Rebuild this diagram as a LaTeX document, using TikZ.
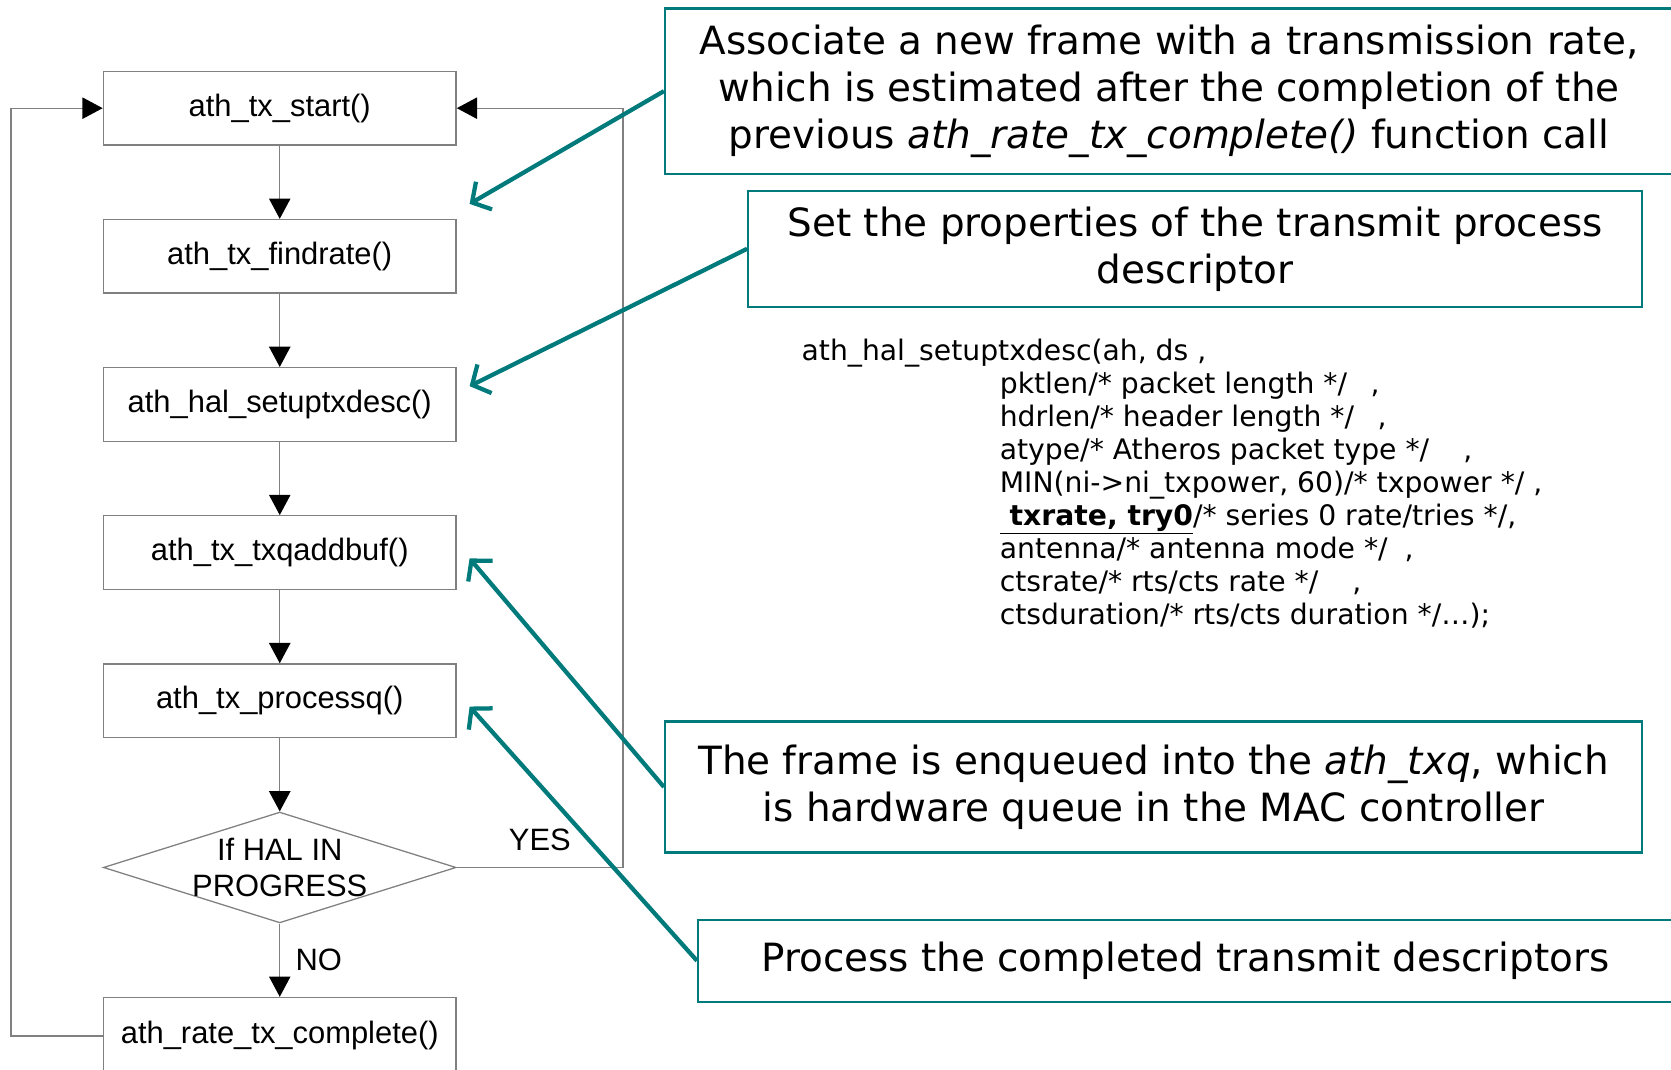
\documentclass[tikz,border=0pt]{standalone}
\usepackage{fontspec}
\setmainfont{DejaVu Sans}
\newfontfamily\flowfont{Liberation Sans}
\usetikzlibrary{calc}
\usetikzlibrary{arrows.meta,positioning,shapes.geometric}
\definecolor{noteteal}{RGB}{0,122,122}
\definecolor{flowgray}{RGB}{128,128,128}

\begin{document}
\begin{tikzpicture}[x=1pt,y=-1pt,>=Triangle, every node/.style={font=\flowfont\fontsize{29}{33}\selectfont}]
    \tikzset{func/.style={draw=flowgray,line width=1.3pt,minimum width=331pt,minimum height=69pt,inner sep=0pt}}
    \tikzset{flow/.style={draw=flowgray,line width=1.2pt,-{Triangle[length=19pt,width=20pt,color=black]}}}
    \tikzset{note/.style={draw=noteteal,line width=2pt,align=center,inner sep=0pt,font=\rmfamily\fontsize{36.5}{44}\selectfont}}
    \tikzset{pointer/.style={noteteal,line width=4pt,-{Straight Barb[length=13pt,width=30pt]}}}
    \tikzset{code/.style={align=left,inner sep=0pt,font=\rmfamily\fontsize{26.5}{31}\selectfont}}

    \useasboundingbox (0,0) rectangle (1568,1004);

    % Transmit path, one call per box
    \node[func] (start)    at (262.5,101.5) {ath\_tx\_start()};
    \node[func] (findrate) at (262.5,240.5) {ath\_tx\_findrate()};
    \node[func] (setup)    at (262.5,379.5) {ath\_hal\_setuptxdesc()};
    \node[func] (addbuf)   at (262.5,518.5) {ath\_tx\_txqaddbuf()};
    \node[func] (procq)    at (262.5,657.5) {ath\_tx\_processq()};
    \node[draw=flowgray,line width=1.2pt,diamond,minimum width=331pt,minimum height=104pt,inner sep=0pt,
          label={[align=center]center:If HAL IN\\PROGRESS}] (halchk) at (262.5,814) {};
    \node[func,minimum height=72pt] (ratecomp) at (262.5,972) {ath\_rate\_tx\_complete()};

    \foreach \a/\b in {start/findrate,findrate/setup,setup/addbuf,addbuf/procq,procq/halchk}{
        \draw[flow] (\a) -- (\b);
    }
    \draw[flow] (halchk) -- node[right=11pt] {NO} (ratecomp);

    % Loops back to the start
    \draw[flow] (ratecomp.west) -- ++(-86,0) |- (start.west);
    \draw[flow] (halchk.east) -- node[above=12pt] {YES} ++(156,0) |- (start.east);

    % Notes on the right
    \node[note,minimum width=946pt,minimum height=155pt] (noteRate) at (1097,85.5)
        {Associate a new frame with a transmission rate,\\which is estimated after the completion of the\\previous \textit{ath\_rate\_tx\_complete()} function call};
    \node[note,minimum width=839pt,minimum height=109pt] (noteDesc) at (1121.5,233.5)
        {Set the properties of the transmit process\\descriptor};
    \node[note,minimum width=917pt,minimum height=123pt] (noteTxq) at (1082.5,738.5)
        {The frame is enqueued into the \textit{ath\_txq}, which\\is hardware queue in the MAC controller};
    \node[note,minimum width=915pt,minimum height=77pt] (noteProc) at (1112.5,901.5)
        {Process the completed transmit descriptors};

    % Call with its arguments
    \node[code,anchor=north west] (descCode) at (752,318) {ath\_hal\_setuptxdesc(ah, ds ,\\
        \hspace*{186pt}pktlen/* packet length */\hspace{22pt},\\
        \hspace*{186pt}hdrlen/* header length */\hspace{22pt},\\
        \hspace*{186pt}atype/* Atheros packet type */\hspace{32pt},\\
        \hspace*{186pt}MIN(ni->ni\_txpower, 60)/* txpower */ ,\\
        \hspace*{186pt}\underline{\textbf{\ txrate, try0}}/* series 0 rate/tries */,\\
        \hspace*{186pt}antenna/* antenna mode */\hspace{16pt},\\
        \hspace*{186pt}ctsrate/* rts/cts rate */\hspace{32pt},\\
        \hspace*{186pt}ctsduration/* rts/cts duration */\ldots);};

    % Pointers from the notes to the calls
    \draw[pointer] (noteRate.west) -- ($(findrate.north east)+(12,-14)$);
    \draw[pointer] (noteDesc.west) -- ($(setup.north east)+(12,18)$);
    \draw[pointer] (noteTxq.west)  -- ($(addbuf.east)+(12,5.5)$);
    \draw[pointer] (noteProc.west) -- ($(procq.east)+(12,5.5)$);
\end{tikzpicture}
\end{document}
